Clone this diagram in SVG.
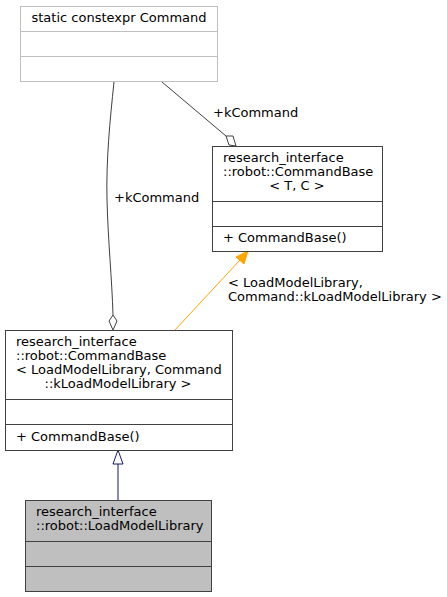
<svg xmlns="http://www.w3.org/2000/svg" width="447" height="597" viewBox="0 0 447 597">
<style>
text{font-family:"DejaVu Sans",sans-serif;font-size:13px;fill:#000}
.box{fill:#fff;stroke:#404040;stroke-width:1}
.gbox{fill:#bfbfbf;stroke:#404040;stroke-width:1}
.lbox{fill:#fff;stroke:#bfbfbf;stroke-width:1}
.e{fill:none;stroke:#404040;stroke-width:1}
</style>
<rect width="447" height="597" fill="#fff"/>
<g id="connectors">
<path class="e" d="M114,82 C110,120 106,160 107,200 C108,240 112,280 113,315"/>
<polygon points="113,315 117,321 113,330 109,321" fill="#fff" stroke="#404040"/>
<text x="114" y="202">+kCommand</text>
<path class="e" d="M162,82 L226,136"/>
<polygon points="226,136 233,136 236,146 229,145" fill="#fff" stroke="#404040"/>
<text x="213" y="117">+kCommand</text>
<path d="M175,330 L240,260" fill="none" stroke="#ffa500"/>
<polygon points="248,251 244,264 236,257" fill="#ffa500" stroke="#ffa500"/>
<text x="228" y="287">&lt; LoadModelLibrary,</text>
<text x="228" y="301">Command::kLoadModelLibrary &gt;</text>
<path d="M118,500 L118,464" fill="none" stroke="#191970"/>
<polygon points="118,450 123,464 113,464" fill="#fff" stroke="#191970"/>
</g>
<g id="node-command">
<rect class="lbox" x="20.5" y="6.5" width="197" height="75"/>
<line x1="20.5" y1="31.5" x2="217.5" y2="31.5" stroke="#bfbfbf"/>
<line x1="20.5" y1="56.5" x2="217.5" y2="56.5" stroke="#bfbfbf"/>
<text x="119" y="22" text-anchor="middle">static constexpr Command</text>
</g>
<g id="node-commandbase-tc">
<rect class="box" x="212.5" y="146.5" width="170" height="105"/>
<line x1="212.5" y1="201.5" x2="382.5" y2="201.5" stroke="#404040"/>
<line x1="212.5" y1="226.5" x2="382.5" y2="226.5" stroke="#404040"/>
<text x="223" y="162">research_interface</text>
<text x="223" y="176">::robot::CommandBase</text>
<text x="297" y="190" text-anchor="middle">&lt; T, C &gt;</text>
<text x="223" y="242">+ CommandBase()</text>
</g>
<g id="node-commandbase-lml">
<rect class="box" x="5.5" y="330.5" width="227" height="120"/>
<line x1="5.5" y1="399.5" x2="232.5" y2="399.5" stroke="#404040"/>
<line x1="5.5" y1="424.5" x2="232.5" y2="424.5" stroke="#404040"/>
<text x="16" y="346">research_interface</text>
<text x="16" y="360">::robot::CommandBase</text>
<text x="16" y="374">&lt; LoadModelLibrary, Command</text>
<text x="118" y="388" text-anchor="middle">::kLoadModelLibrary &gt;</text>
<text x="16" y="441">+ CommandBase()</text>
</g>
<g id="node-loadmodellibrary">
<rect class="gbox" x="25.5" y="500.5" width="186" height="91"/>
<line x1="25.5" y1="541.5" x2="211.5" y2="541.5" stroke="#404040"/>
<line x1="25.5" y1="566.5" x2="211.5" y2="566.5" stroke="#404040"/>
<text x="36" y="516">research_interface</text>
<text x="36" y="530">::robot::LoadModelLibrary</text>
</g>
</svg>
